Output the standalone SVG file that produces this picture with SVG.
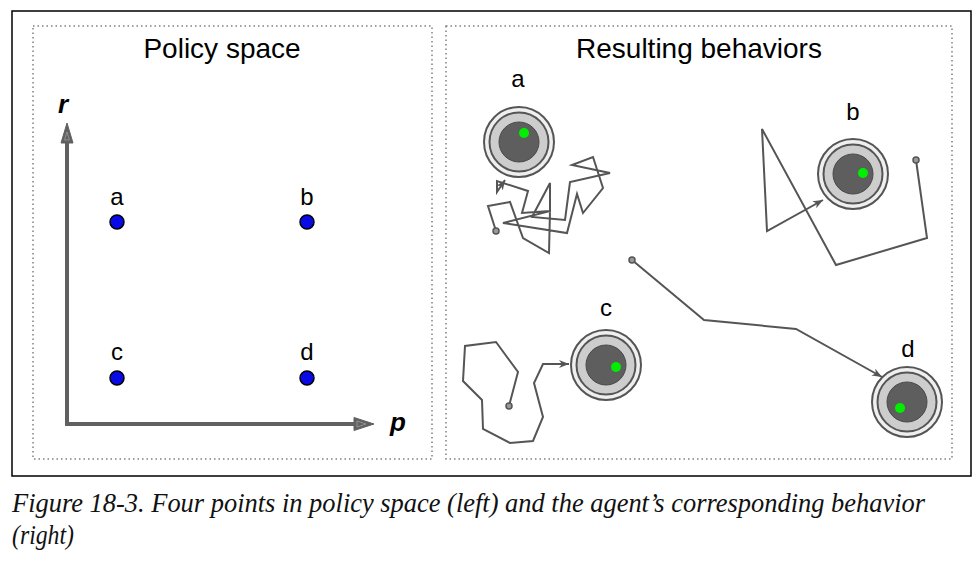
<svg xmlns="http://www.w3.org/2000/svg" width="980" height="566" viewBox="0 0 980 566">
<defs>
<style>
.title{font-family:"Liberation Sans",Arial,sans-serif;font-size:28px;fill:#000;text-anchor:middle}
.lbl{font-family:"Liberation Sans",Arial,sans-serif;font-size:24px;fill:#000;text-anchor:middle}
.axlbl{font-family:"Liberation Sans",Arial,sans-serif;font-size:26px;font-weight:bold;font-style:italic;fill:#000}
.cap{font-family:"Liberation Serif","Times New Roman",serif;font-size:28px;font-style:italic;fill:#111}
.box{fill:none;stroke:#808080;stroke-width:1.5;stroke-dasharray:1.5 3}
.pt{fill:#0a0ae6;stroke:#000;stroke-width:1.5}
.axis{stroke:#606060;stroke-width:4;fill:none}
.ah{fill:#606060;stroke:#606060;stroke-width:1}
.ahin{fill:none;stroke:#9a9a9a;stroke-width:0.8}
.r1{fill:#efefef;stroke:#555;stroke-width:2}
.r2{fill:#cdcdcd;stroke:#555;stroke-width:2}
.r3{fill:#5e5e5e;stroke:#4a4a4a;stroke-width:1}
.g{fill:#00ee00}
.traj{fill:none;stroke:#555;stroke-width:2;stroke-linejoin:miter;marker-end:url(#arr)}
.st{fill:#999;stroke:#555;stroke-width:1.5}
</style>
<marker id="arr" viewBox="0 0 10 8" refX="10" refY="4" markerWidth="10" markerHeight="8" markerUnits="userSpaceOnUse" orient="auto">
<path d="M0,0 L10,4 L0,8 L3,4 Z" fill="#555"/>
</marker>
</defs>
<rect x="0" y="0" width="980" height="566" fill="#fff"/>
<rect x="12" y="11" width="959" height="465" fill="none" stroke="#000" stroke-width="1.5"/>

<g id="policy-space">
<rect class="box" x="33" y="26" width="399" height="433"/>
<text class="title" x="222" y="58">Policy space</text>
<g id="axes">
<line class="axis" x1="67" y1="424" x2="67" y2="142"/>
<line class="axis" x1="65" y1="424" x2="355" y2="424"/>
<polygon class="ah" points="67,123 73,143 61,143"/>
<polygon class="ahin" points="67,132 69.5,140 64.5,140"/>
<polygon class="ah" points="374,424 354,417.5 354,430.5"/>
<polygon class="ahin" points="366,424 357,421 357,427"/>
<text class="axlbl" x="58" y="113">r</text>
<text class="axlbl" x="390" y="431">p</text>
</g>
<g id="pa"><circle class="pt" cx="117" cy="222" r="7"/><text class="lbl" x="117" y="205">a</text></g>
<g id="pb"><circle class="pt" cx="307" cy="222" r="7"/><text class="lbl" x="307" y="205">b</text></g>
<g id="pc"><circle class="pt" cx="117" cy="378" r="7"/><text class="lbl" x="117" y="360">c</text></g>
<g id="pd"><circle class="pt" cx="307" cy="378" r="7"/><text class="lbl" x="307" y="360">d</text></g>
</g>

<g id="behaviors">
<rect class="box" x="446" y="26" width="506" height="433"/>
<text class="title" x="699" y="58">Resulting behaviors</text>
<g id="ta"><circle class="r1" cx="519" cy="142" r="35"/><circle class="r2" cx="519" cy="142" r="29.5"/><circle class="r3" cx="519" cy="142" r="20"/><circle class="g" cx="524" cy="133" r="5"/><text class="lbl" x="518" y="87">a</text></g>
<g id="tb"><circle class="r1" cx="853" cy="174" r="35"/><circle class="r2" cx="853" cy="174" r="29.5"/><circle class="r3" cx="853" cy="174" r="20"/><circle class="g" cx="863" cy="173" r="5"/><text class="lbl" x="853" y="120">b</text></g>
<g id="tc"><circle class="r1" cx="606" cy="365" r="35"/><circle class="r2" cx="606" cy="365" r="29.5"/><circle class="r3" cx="606" cy="365" r="20"/><circle class="g" cx="616" cy="367" r="5"/><text class="lbl" x="606" y="316">c</text></g>
<g id="td"><circle class="r1" cx="907" cy="402" r="35"/><circle class="r2" cx="907" cy="402" r="29.5"/><circle class="r3" cx="907" cy="402" r="20"/><circle class="g" cx="900" cy="408" r="5"/><text class="lbl" x="908" y="357">d</text></g>
</g>

<g id="connectors">
<polyline class="traj" points="496,231 488,206 510,202 523,238 549,253 550,211 503,223 567,233 577,194 583,213 603,188 593,157 572,165 610,173 570,182 565,220 532,217 550,183 550,211 522,213 528,191 497,181 497,192 505,180"/>
<circle class="st" cx="496" cy="231" r="3"/>
<polyline class="traj" points="916,160 927,238 836,265 762,129 767,231 823,200"/>
<circle class="st" cx="916" cy="160" r="3"/>
<polyline class="traj" points="509,406 518,372 496,342 465,346 463,381 482,400 483,429 510,443 533,441 543,417 534,383 543,364 569,364"/>
<circle class="st" cx="509" cy="406" r="3"/>
<polyline class="traj" points="632,260 704,320 796,329 882,377"/>
<circle class="st" cx="632" cy="260" r="3"/>
</g>

<g id="caption">
<text class="cap" x="12" y="512" textLength="913" lengthAdjust="spacingAndGlyphs">Figure 18-3. Four points in policy space (left) and the agent’s corresponding behavior</text>
<text class="cap" x="12" y="544" textLength="62" lengthAdjust="spacingAndGlyphs">(right)</text>
</g>
</svg>
